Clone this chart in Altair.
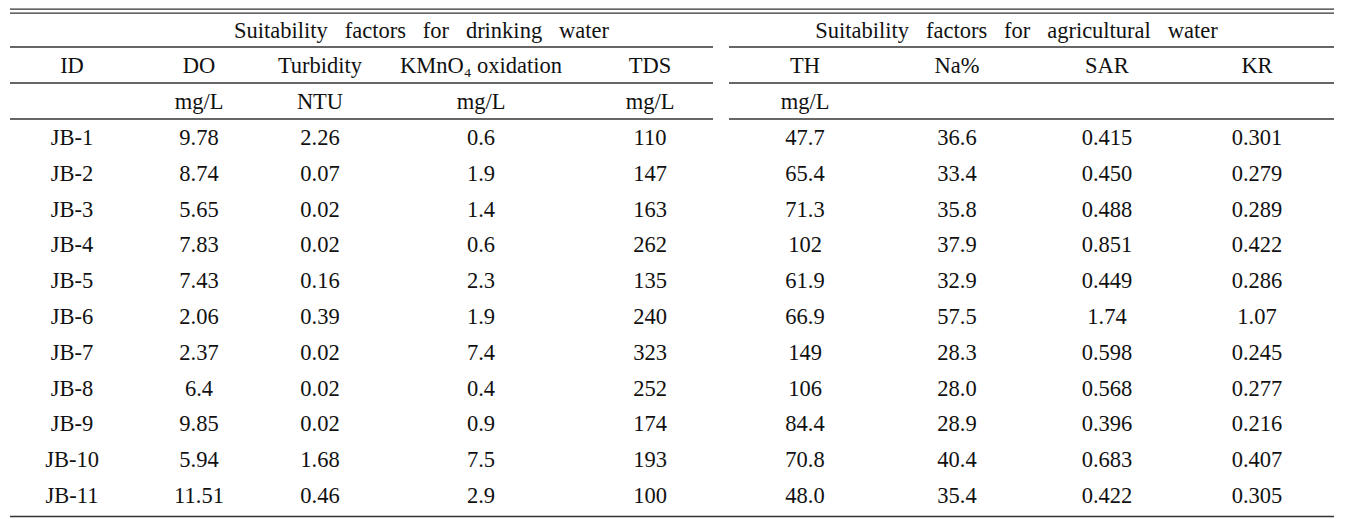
import altair as alt
import pandas as pd

# ---- table content ----
ids = ["JB-1", "JB-2", "JB-3", "JB-4", "JB-5", "JB-6", "JB-7", "JB-8", "JB-9", "JB-10", "JB-11"]
do_vals = ["9.78", "8.74", "5.65", "7.83", "7.43", "2.06", "2.37", "6.4", "9.85", "5.94", "11.51"]
turbidity = ["2.26", "0.07", "0.02", "0.02", "0.16", "0.39", "0.02", "0.02", "0.02", "1.68", "0.46"]
kmno4 = ["0.6", "1.9", "1.4", "0.6", "2.3", "1.9", "7.4", "0.4", "0.9", "7.5", "2.9"]
tds = ["110", "147", "163", "262", "135", "240", "323", "252", "174", "193", "100"]
th = ["47.7", "65.4", "71.3", "102", "61.9", "66.9", "149", "106", "84.4", "70.8", "48.0"]
na_pct = ["36.6", "33.4", "35.8", "37.9", "32.9", "57.5", "28.3", "28.0", "28.9", "40.4", "35.4"]
sar = ["0.415", "0.450", "0.488", "0.851", "0.449", "1.74", "0.598", "0.568", "0.396", "0.683", "0.422"]
kr = ["0.301", "0.279", "0.289", "0.422", "0.286", "1.07", "0.245", "0.277", "0.216", "0.407", "0.305"]

columns = ["ID", "DO", "Turb", "KMnO4", "TDS", "TH", "Na", "SAR", "KR"]
col_headers = ["ID", "DO", "Turbidity", "KMnO\u2084 oxidation", "TDS", "TH", "Na%", "SAR", "KR"]
col_units = ["", "mg/L", "NTU", "mg/L", "mg/L", "mg/L", "", "", ""]
NB = "\u00a0\u00a0\u00a0"
groups = {"G1": NB.join(["Suitability", "factors", "for", "drinking", "water"]),
          "G2": NB.join(["Suitability", "factors", "for", "agricultural", "water"])}

# ---- layout (style only) ----
slot_order = ["ID", "DO", "Turb", "G1", "KMnO4", "TDS", "TH", "Na", "G2", "SAR", "KR"]
slot_px = [64, 191, 312, 413.5, 473, 642, 797, 949, 1008.5, 1099, 1249]
row_order = ["grp", "hdr", "unit"] + ids
FONT = "'Liberation Serif', 'Times New Roman', Times, 'DejaVu Serif', serif"
FS = 22.5

rows = []
for k, g in groups.items():
    rows.append({"row": "grp", "col": k, "text": g})
for c, h, u in zip(columns, col_headers, col_units):
    rows.append({"row": "hdr", "col": c, "text": h})
    if u:
        rows.append({"row": "unit", "col": c, "text": u})
series = [ids, do_vals, turbidity, kmno4, tds, th, na_pct, sar, kr]
for i, rid in enumerate(ids):
    for c, s in zip(columns, series):
        rows.append({"row": rid, "col": c, "text": s[i]})
df = pd.DataFrame(rows)
df["slot"] = df["col"].map({k: i for i, k in enumerate(slot_order)})

text = alt.Chart(df).mark_text(
    font=FONT, fontSize=FS, color="#111", align="center", baseline="alphabetic"
).encode(
    x=alt.X("slot:Q", axis=None,
            scale=alt.Scale(domain=list(range(len(slot_order))), range=slot_px, zero=False, nice=False)),
    y=alt.Y("row:N", axis=None, sort=row_order,
            scale=alt.Scale(type="point", domain=row_order, range=[29.5, 495], padding=0)),
    text="text:N",
)

one = pd.DataFrame({"a": [0]})
def rule(x1, x2, y):
    return alt.Chart(one).mark_rule(color="#333", strokeWidth=1.3).encode(
        x=alt.value(x1), x2=alt.value(x2), y=alt.value(y))

L, R, GL, GR = 2, 1326, 705, 721
rules = [
    rule(L, R, 1.2), rule(L, R, 5.2),
    rule(L, GL, 39), rule(GR, R, 39),
    rule(L, GL, 75), rule(GR, R, 75),
    rule(L, GL, 111), rule(GR, R, 111),
    rule(L, R, 508.5),
]

chart = alt.layer(text, *rules).properties(
    width=1337, height=511,
    autosize=alt.AutoSizeParams(type="none"),
    padding=0,
).configure_view(stroke=None)

chart.save("out.html", embed_options={"renderer": "svg", "actions": False})
